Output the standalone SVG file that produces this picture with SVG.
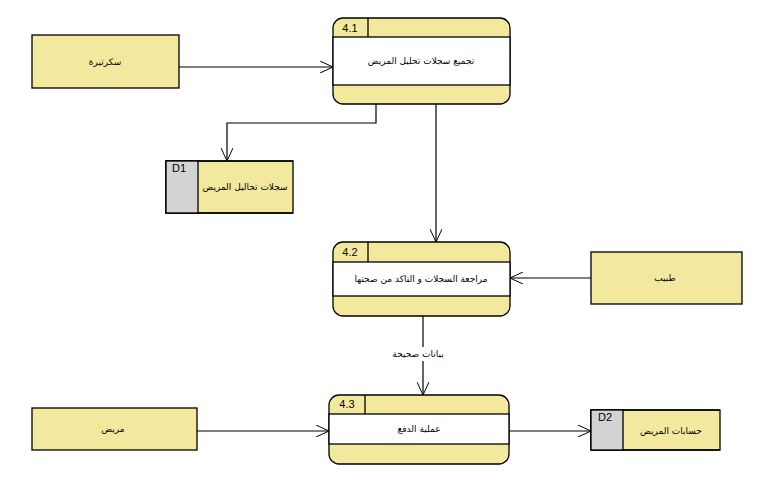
<svg xmlns="http://www.w3.org/2000/svg" width="774" height="494" viewBox="0 0 774 494">
<defs>
<style>
.ext{fill:#F3E99E;stroke:#000;stroke-width:1.3}
.hdr{fill:#F3E99E;stroke:#000;stroke-width:1.3}
.body{fill:#fff;stroke:#000;stroke-width:1.3}
.ln{stroke:#000;stroke-width:1.3;fill:none}
.gray{fill:#D3D3D3;stroke:#000;stroke-width:1.3}
.conn{stroke:#000;stroke-width:1.2;fill:none;marker-end:url(#arr)}
text{font-family:"DejaVu Sans","Liberation Sans",sans-serif;font-size:9px;fill:#000}
.c{text-anchor:middle;dominant-baseline:central}
.id{font-family:"Liberation Sans",Arial,sans-serif;font-size:11px}
</style>
<marker id="arr" viewBox="0 0 14 12" refX="13" refY="6" markerWidth="14" markerHeight="12" markerUnits="userSpaceOnUse" orient="auto">
<path d="M0,0 L13,6 L0,12" fill="none" stroke="#000" stroke-width="1"/>
</marker>
</defs>
<rect width="774" height="494" fill="#fff"/>

<g id="connectors">
<line class="conn" x1="179" y1="67" x2="333" y2="67"/>
<polyline class="conn" points="376,104 376,123 227,123 227,161"/>
<line class="conn" x1="436" y1="104" x2="436" y2="242"/>
<line class="conn" x1="591" y1="278" x2="510" y2="278"/>
<line class="conn" x1="423" y1="316" x2="423" y2="395"/>
<rect x="391" y="347" width="56" height="14" fill="#fff"/>
<text class="c" x="418" y="354">بيانات صحيحة</text>
<line class="conn" x1="197" y1="431" x2="329" y2="431"/>
<line class="conn" x1="509" y1="431" x2="591" y2="431"/>
</g>

<g id="ext-secretary">
<rect class="ext" x="32" y="35" width="147" height="53"/>
<text class="c" x="105" y="62">سكرتيرة</text>
</g>

<g id="p41">
<rect class="hdr" x="333" y="18" width="177" height="86" rx="10"/>
<rect class="body" x="333" y="37" width="177" height="48"/>
<line class="ln" x1="368" y1="18" x2="368" y2="37"/>
<text class="id c" x="350" y="28">4.1</text>
<text class="c" x="421" y="61">تجميع سجلات تحليل المريض</text>
</g>

<g id="d1">
<rect class="ext" x="166" y="161" width="127" height="52" stroke="none"/>
<polyline class="ln" points="293,161 166,161 166,213 293,213"/>
<rect class="gray" x="166" y="161" width="32" height="52"/>
<text class="id" x="172" y="172">D1</text>
<text class="c" x="245" y="187">سجلات تحاليل المريض</text>
</g>

<g id="p42">
<rect class="hdr" x="333" y="242" width="177" height="74" rx="10"/>
<rect class="body" x="333" y="262" width="177" height="34"/>
<line class="ln" x1="368" y1="242" x2="368" y2="262"/>
<text class="id c" x="350" y="252">4.2</text>
<text class="c" x="421" y="279">مراجعة السجلات و التاكد من صحتها</text>
</g>

<g id="ext-doctor">
<rect class="ext" x="591" y="252" width="151" height="52"/>
<text class="c" x="665" y="278">طبيب</text>
</g>

<g id="p43">
<rect class="hdr" x="329" y="395" width="180" height="69" rx="10"/>
<rect class="body" x="329" y="414" width="180" height="30"/>
<line class="ln" x1="365" y1="395" x2="365" y2="414"/>
<text class="id c" x="347" y="404">4.3</text>
<text class="c" x="419" y="429">عملية الدفع</text>
</g>

<g id="ext-patient">
<rect class="ext" x="32" y="408" width="165" height="42"/>
<text class="c" x="113" y="429">مريض</text>
</g>

<g id="d2">
<rect class="ext" x="591" y="410" width="129" height="40" stroke="none"/>
<polyline class="ln" points="720,410 591,410 591,450 720,450"/>
<rect class="gray" x="591" y="410" width="32" height="40"/>
<text class="id" x="598" y="421">D2</text>
<text class="c" x="671" y="431">حسابات المريض</text>
</g>
</svg>
